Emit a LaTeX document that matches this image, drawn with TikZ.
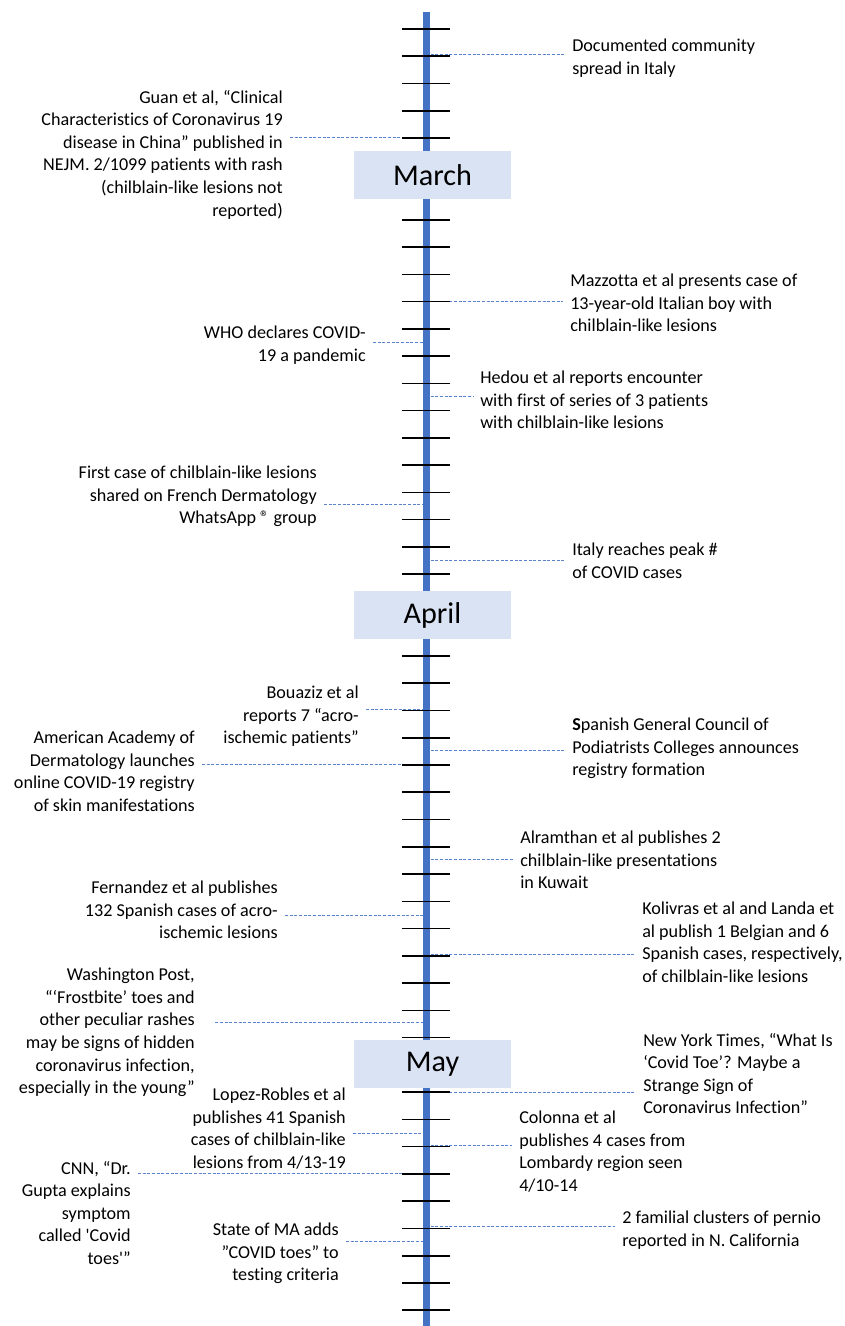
\documentclass[tikz,border=0pt]{standalone}
\usepackage{fontspec}
\setmainfont{Carlito}[Ligatures={TeX,NoCommon}]
\definecolor{axisblue}{RGB}{68,114,196}
\definecolor{monthfill}{RGB}{218,227,243}
\definecolor{leaderblue}{RGB}{90,130,205}
\newcommand{\evfont}{\fontsize{13.6}{16.9}\selectfont}
\tikzset{
  evleft/.style={anchor=north east, align=right, inner xsep=5.25pt, inner ysep=0pt, font=\evfont},
  evright/.style={anchor=north west, align=left, inner xsep=5.25pt, inner ysep=0pt, font=\evfont},
  leader/.style={leaderblue, line width=0.7pt, dash pattern=on 2.2pt off 1.3pt},
  axisline/.style={axisblue, line width=5.25pt},
  tickmark/.style={black, line width=1.2pt},
  monthbox/.style={fill=monthfill, minimum width=117.75pt, minimum height=36pt, inner sep=0pt, font=\fontsize{22.6}{26}\selectfont}
}
\begin{document}
\begin{tikzpicture}[x=0.75pt,y=-0.75pt]
  \useasboundingbox (0,0) rectangle (844,1326);
  \coordinate (axtop) at (426,12);
  \coordinate (axbot) at (426,1326);
  % points on the axis where the leaders meet it
  \coordinate (ax-italy) at (426,54);
  \coordinate (ax-guan) at (426,137);
  \coordinate (ax-mazzotta) at (426,301);
  \coordinate (ax-who) at (426,342);
  \coordinate (ax-hedou) at (426,396);
  \coordinate (ax-firstcase) at (426,504);
  \coordinate (ax-peak) at (426,560);
  \coordinate (ax-bouaziz) at (426,709);
  \coordinate (ax-podiatrists) at (426,750);
  \coordinate (ax-aad) at (426,764);
  \coordinate (ax-alramthan) at (426,859);
  \coordinate (ax-fernandez) at (426,915);
  \coordinate (ax-kolivras) at (426,954);
  \coordinate (ax-wapo) at (426,1022);
  \coordinate (ax-nyt) at (426,1092);
  \coordinate (ax-lopez) at (426,1133);
  \coordinate (ax-colonna) at (426,1145);
  \coordinate (ax-cnn) at (426,1173);
  \coordinate (ax-pernio) at (426,1226);
  \coordinate (ax-mastate) at (426,1241);

  % events right of the axis
  \node[evright] (italy) at (565,39) {Documented community\\spread in Italy};
  \node[evright] (mazzotta) at (563,274) {Mazzotta et al presents case of\\13-year-old Italian boy with\\chilblain-like lesions};
  \node[evright] (hedou) at (473,371) {Hedou et al reports encounter\\with first of series of 3 patients\\with chilblain-like lesions};
  \node[evright] (peak) at (565,543) {Italy reaches peak \#\\of COVID cases};
  \node[evright] (podiatrists) at (565,718) {\textbf{S}panish General Council of\\Podiatrists Colleges announces\\registry formation};
  \node[evright] (alramthan) at (513,831) {Alramthan et al publishes 2\\chilblain-like presentations\\in Kuwait};
  \node[evright] (kolivras) at (635,902) {Kolivras et al and Landa et\\al publish 1 Belgian and 6\\Spanish cases, respectively,\\of chilblain-like lesions};
  \node[evright] (nyt) at (636,1033) {New York Times, “What Is\\‘Covid Toe’? Maybe a\\Strange Sign of\\Coronavirus Infection”};
  \node[evright] (colonna) at (512,1111) {Colonna et al\\publishes 4 cases from\\Lombardy region seen\\4/10-14};
  \node[evright] (pernio) at (615,1211) {2 familial clusters of pernio\\reported in N. California};

  % events left of the axis
  \node[evleft] (guan) at (290,90) {Guan et al, “Clinical\\Characteristics of Coronavirus 19\\disease in China” published in\\NEJM. 2/1099 patients with rash\\(chilblain-like lesions not\\reported)};
  \node[evleft] (who) at (373,326) {WHO declares COVID-\\19 a pandemic};
  \node[evleft] (firstcase) at (324,466) {First case of chilblain-like lesions\\shared on French Dermatology\\WhatsApp ® group};
  \node[evleft] (bouaziz) at (366,686) {Bouaziz et al\\reports 7 “acro-\\ischemic patients”};
  \node[evleft] (aad) at (202,731) {American Academy of\\Dermatology launches\\online COVID-19 registry\\of skin manifestations};
  \node[evleft] (fernandez) at (285,881) {Fernandez et al publishes\\132 Spanish cases of acro-\\ischemic lesions};
  \node[evleft] (wapo) at (202,968) {Washington Post,\\“‘Frostbite’ toes and\\other peculiar rashes\\may be signs of hidden\\coronavirus infection,\\especially in the young”};
  \node[evleft] (lopez) at (353,1088) {Lopez-Robles et al\\publishes 41 Spanish\\cases of chilblain-like\\lesions from 4/13-19};
  \node[evleft] (cnn) at (138,1161) {CNN, “Dr.\\Gupta explains\\symptom\\called \textquotesingle Covid\\toes\textquotesingle”};
  \node[evleft] (mastate) at (346,1223) {State of MA adds\\”COVID toes” to\\testing criteria};

  % dashed leaders
  \draw[leader] (ax-italy) -- (italy.west |- ax-italy);
  \draw[leader] (ax-mazzotta) -- (mazzotta.west |- ax-mazzotta);
  \draw[leader] (ax-hedou) -- (hedou.west |- ax-hedou);
  \draw[leader] (ax-peak) -- (peak.west |- ax-peak);
  \draw[leader] (ax-podiatrists) -- (podiatrists.west |- ax-podiatrists);
  \draw[leader] (ax-alramthan) -- (alramthan.west |- ax-alramthan);
  \draw[leader] (ax-kolivras) -- (kolivras.west |- ax-kolivras);
  \draw[leader] (ax-nyt) -- (nyt.west |- ax-nyt);
  \draw[leader] (ax-colonna) -- (colonna.west |- ax-colonna);
  \draw[leader] (ax-pernio) -- (pernio.west |- ax-pernio);
  \draw[leader] (guan.east |- ax-guan) -- (ax-guan);
  \draw[leader] (who.east |- ax-who) -- (ax-who);
  \draw[leader] (firstcase.east |- ax-firstcase) -- (ax-firstcase);
  \draw[leader] (bouaziz.east |- ax-bouaziz) -- (ax-bouaziz);
  \draw[leader] (aad.east |- ax-aad) -- (ax-aad);
  \draw[leader] (fernandez.east |- ax-fernandez) -- (ax-fernandez);
  \draw[leader] ([xshift=10pt]wapo.east |- ax-wapo) -- (ax-wapo);
  \draw[leader] (lopez.east |- ax-lopez) -- (ax-lopez);
  \draw[leader] (cnn.east |- ax-cnn) -- (ax-cnn);
  \draw[leader] (mastate.east |- ax-mastate) -- (ax-mastate);

  % axis with ticks
  \draw[axisline] (axtop) -- (axbot);
  \foreach \k in {0,...,47}
    \draw[tickmark] (402,{29+27.26*\k}) -- (450,{29+27.26*\k});

  % months
  \node[monthbox] (march) at (432.5,175) {March};
  \node[monthbox] (april) at (432.5,615) {April};
  \node[monthbox] (may) at (432.5,1064) {May};
\end{tikzpicture}
\end{document}
